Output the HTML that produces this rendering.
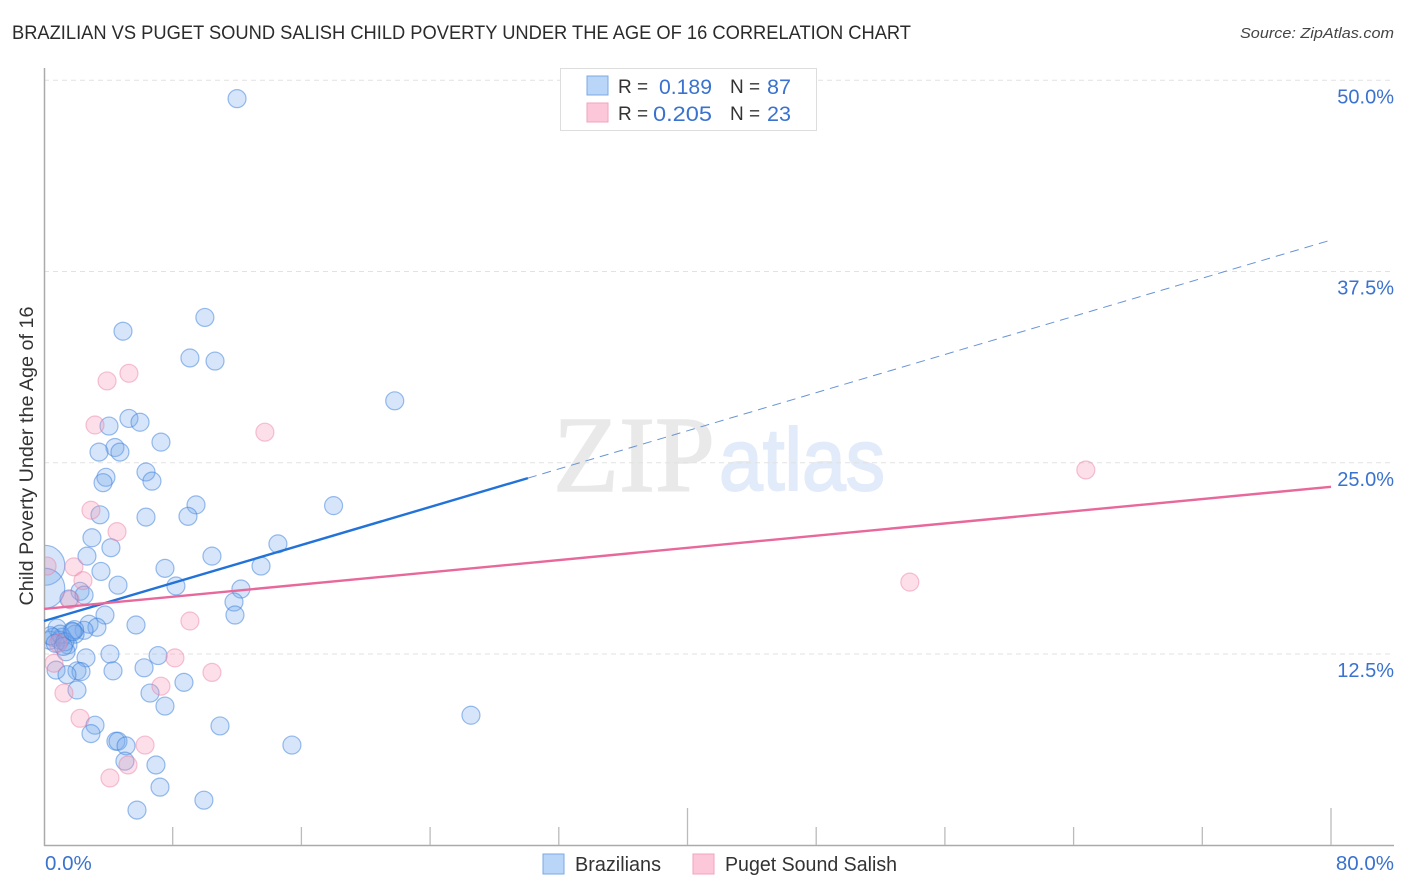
<!DOCTYPE html>
<html><head><meta charset="utf-8"><title>Brazilian vs Puget Sound Salish chart</title>
<style>
html,body{margin:0;padding:0;background:#fff;width:1406px;height:892px;overflow:hidden}
svg{display:block}
text{font-family:"Liberation Sans",sans-serif}
</style></head>
<body>
<svg id="chart" width="1406" height="892" viewBox="0 0 1406 892" xmlns="http://www.w3.org/2000/svg">
<text x="12" y="39" font-size="19" fill="#2b2b2b" textLength="899" lengthAdjust="spacingAndGlyphs">BRAZILIAN VS PUGET SOUND SALISH CHILD POVERTY UNDER THE AGE OF 16 CORRELATION CHART</text>
<text x="1394" y="38" font-size="15" font-style="italic" fill="#444" text-anchor="end" textLength="154" lengthAdjust="spacingAndGlyphs">Source: ZipAtlas.com</text>
<g id="watermark">
<text x="553" y="491" font-size="108" fill="#e9e9e9" stroke="#e9e9e9" stroke-width="1.5" style="font-family:'Liberation Serif',serif" textLength="162" lengthAdjust="spacingAndGlyphs">ZIP</text>
<text x="719" y="490" font-size="88" fill="#e2ebf9" stroke="#e2ebf9" stroke-width="2" textLength="166" lengthAdjust="spacingAndGlyphs">atlas</text>
</g>
<g id="grid"></g>
<g id="points"></g>
<rect x="0" y="500" width="44" height="180" fill="#fff"/>
<g id="axes"></g>
<g id="trends"></g>
<g id="labels"></g>
<g id="top-legend">
<rect x="560.5" y="68.5" width="256" height="62" fill="#fff" stroke="#ddd"/>
<rect x="587" y="76" width="21" height="19" fill="#b9d5f7" stroke="#7ba9e4"/>
<rect x="587" y="103" width="21" height="19" fill="#fcc8d9" stroke="#f0a3bd"/>
<text x="618" y="93" font-size="19" fill="#333">R =</text>
<text x="712" y="94" font-size="21" fill="#3a72cf" text-anchor="end" textLength="53" lengthAdjust="spacingAndGlyphs">0.189</text>
<text x="730" y="93" font-size="19" fill="#333">N =</text>
<text x="791" y="94" font-size="21" fill="#3a72cf" text-anchor="end" textLength="24" lengthAdjust="spacingAndGlyphs">87</text>
<text x="618" y="120" font-size="19" fill="#333">R =</text>
<text x="712" y="121" font-size="21" fill="#3a72cf" text-anchor="end" textLength="59" lengthAdjust="spacingAndGlyphs">0.205</text>
<text x="730" y="120" font-size="19" fill="#333">N =</text>
<text x="791" y="121" font-size="21" fill="#3a72cf" text-anchor="end" textLength="24" lengthAdjust="spacingAndGlyphs">23</text>
</g>
<g id="bottom-legend">
<rect x="543" y="854" width="21" height="20" fill="#b9d5f7" stroke="#7ba9e4"/>
<text x="575" y="871" font-size="20" fill="#333" textLength="86" lengthAdjust="spacingAndGlyphs">Brazilians</text>
<rect x="693" y="854" width="21" height="20" fill="#fcc8d9" stroke="#f0a3bd"/>
<text x="725" y="871" font-size="20" fill="#333" textLength="172" lengthAdjust="spacingAndGlyphs">Puget Sound Salish</text>
</g>
<text transform="translate(33,456) rotate(-90)" font-size="19" fill="#333" text-anchor="middle" textLength="299" lengthAdjust="spacingAndGlyphs">Child Poverty Under the Age of 16</text>
</svg>
<script>
var yTicks = [12.5, 25.0, 37.5, 50.0];
var yTickLabels = ["12.5%", "25.0%", "37.5%", "50.0%"];
var xTicks = [0, 8, 16, 24, 32, 40, 48, 56, 64, 72, 80];
var xMajorTicks = [40, 80];
var xEndLabels = ["0.0%", "80.0%"];

var brazilianX = [12.0,4.91,10.0,9.07,10.63,21.8,5.28,5.97,4.04,7.27,4.41,4.72,3.42,6.34,6.71,3.85,3.67,9.45,18.0,8.95,6.34,3.48,2.98,4.16,2.67,10.44,14.54,13.49,7.52,3.54,4.6,8.2,12.24,2.24,2.49,1.55,11.81,11.87,3.79,5.72,2.8,3.29,2.49,1.74,0.81,1.93,0.56,1.12,0.99,0.37,1.49,1.37,4.1,7.09,2.61,6.22,4.29,0.75,2.05,2.3,1.43,8.7,6.59,2.05,7.52,10.94,3.17,2.92,4.47,4.6,5.1,15.41,26.54,5.03,6.96,7.21,9.94,5.78,0.05,0.05,1.0,1.9,0.4,0.7,1.3,1.8,1.2];
var brazilianY = [48.8,33.6,34.5,31.85,31.65,29.05,27.9,27.65,27.4,26.35,26.0,25.7,25.7,24.4,23.8,24.05,23.7,22.25,22.2,21.5,21.45,21.6,20.1,19.45,18.9,18.9,19.7,18.25,18.1,17.9,17.0,16.95,16.75,16.6,16.35,16.1,15.9,15.05,15.05,14.4,14.45,14.25,14.05,14.0,14.2,13.8,13.6,13.6,13.4,13.4,13.1,12.65,12.5,12.4,12.25,11.6,11.4,11.45,11.4,11.35,11.15,10.65,9.95,10.15,9.1,7.8,7.85,7.3,6.8,6.8,6.5,6.55,8.5,5.5,5.25,3.8,2.95,2.3,18.3,16.8,13.8,14.1,13.7,13.2,13.3,13.95,13.0];
var brazilianSize = [9,9,9,9,9,9,9,9,9,9,9,9,9,9,9,9,9,9,9,9,9,9,9,9,9,9,9,9,9,9,9,9,9,9,9,9,9,9,9,9,9,9,9,9,9,9,9,9,9,9,9,9,9,9,9,9,9,9,9,9,9,9,9,9,9,9,9,9,9,9,9,9,9,9,9,9,9,9,20,20,9,9,9,9,9,9,9];
var pugetX = [13.73,5.28,3.92,3.17,64.76,2.92,4.54,53.82,1.86,2.42,1.62,9.07,0.19,8.14,10.44,7.27,1.24,2.24,6.28,5.22,4.1,0.62,0.88];
var pugetY = [27.0,30.85,30.35,27.47,24.53,21.9,20.5,17.2,18.2,17.3,16.05,14.66,18.25,12.25,11.3,10.4,9.95,8.3,6.55,5.25,4.4,11.9,13.2];

var brazilianTrendX = [0, 30.08];
var brazilianTrendY = [14.66, 24.0];
var brazilianTrendExtX = [30.08, 80];
var brazilianTrendExtY = [24.0, 39.56];
var pugetTrendX = [0, 80];
var pugetTrendY = [15.45, 23.43];

var NS = 'http://www.w3.org/2000/svg';
function xScale(v){ return 44 + v * 16.0875; }
function yScale(v){ return 845.3 - v * 15.3; }
function make(parent, tag, attrs, text){
  var el = document.createElementNS(NS, tag);
  for (var k in attrs) el.setAttribute(k, attrs[k]);
  if (text !== undefined) el.textContent = text;
  document.getElementById(parent).appendChild(el);
  return el;
}
var n;
yTicks.forEach(function(t, i){
  var y = yScale(t);
  n = make('grid', 'line', {x1: 44, x2: 1394, y1: y, y2: y, stroke: '#e2e2e2', 'stroke-width': 1, 'stroke-dasharray': '5 4'});
  
  
  n = make('labels', 'text', {x: 1394, y: y + 23, 'font-size': 20, fill: '#3a72cf', 'text-anchor': 'end'}, yTickLabels[i]);
  
  
});
n = make('axes', 'line', {x1: 44.5, x2: 44.5, y1: 68, y2: 846, stroke: '#aaa', 'stroke-width': 1.5});


n = make('axes', 'line', {x1: 44, x2: 1394, y1: 845.5, y2: 845.5, stroke: '#aaa', 'stroke-width': 1.5});


xTicks.forEach(function(t){
  if (t === 0) return;
  var x = xScale(t);
  var top = xMajorTicks.indexOf(t) >= 0 ? 808 : 827;
  n = make('axes', 'line', {x1: x, x2: x, y1: top, y2: 845, stroke: '#bbb', 'stroke-width': 1.3});
  
  
});
n = make('labels', 'text', {x: 45, y: 870, 'font-size': 20.5, fill: '#3a72cf'}, xEndLabels[0]);


n = make('labels', 'text', {x: 1394, y: 870, 'font-size': 20.5, fill: '#3a72cf', 'text-anchor': 'end'}, xEndLabels[1]);



brazilianX.forEach(function(v, i){
  n = make('points', 'circle', {cx: xScale(v), cy: yScale(brazilianY[i]), r: brazilianSize[i], fill: 'rgba(120,170,235,0.3)', stroke: 'rgba(55,125,220,0.5)', 'stroke-width': 1.2});
  
  
});
pugetX.forEach(function(v, i){
  n = make('points', 'circle', {cx: xScale(v), cy: yScale(pugetY[i]), r: 9, fill: 'rgba(245,150,180,0.3)', stroke: 'rgba(235,125,165,0.45)', 'stroke-width': 1.2});
  
  
});
n = make('trends', 'line', {x1: xScale(brazilianTrendExtX[0]), y1: yScale(brazilianTrendExtY[0]), x2: xScale(brazilianTrendExtX[1]), y2: yScale(brazilianTrendExtY[1]), stroke: '#6a94d4', 'stroke-width': 1, 'stroke-dasharray': '9 6'});


n = make('trends', 'line', {x1: xScale(brazilianTrendX[0]), y1: yScale(brazilianTrendY[0]), x2: xScale(brazilianTrendX[1]), y2: yScale(brazilianTrendY[1]), stroke: '#2272d8', 'stroke-width': 2.4});


n = make('trends', 'line', {x1: xScale(pugetTrendX[0]), y1: yScale(pugetTrendY[0]), x2: xScale(pugetTrendX[1]), y2: yScale(pugetTrendY[1]), stroke: '#e8689b', 'stroke-width': 2.4});


</script>
</body></html>
